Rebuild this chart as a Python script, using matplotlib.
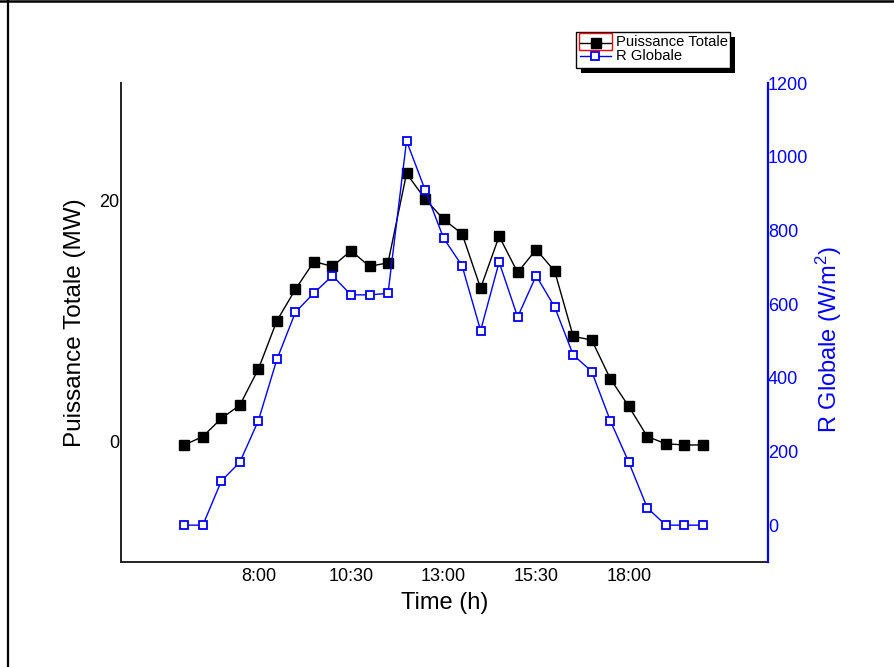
import matplotlib
matplotlib.use('Agg')
import matplotlib.pyplot as plt
from matplotlib.patches import Rectangle
from matplotlib.lines import Line2D

plt.rcParams['font.family'] = ['Liberation Sans', 'DejaVu Sans']
plt.rcParams['mathtext.fontset'] = 'custom'
plt.rcParams['mathtext.rm'] = 'Liberation Sans'
plt.rcParams['mathtext.it'] = 'Liberation Sans'
plt.rcParams['mathtext.default'] = 'regular'

# ---- data ----
hours = [6.0, 6.5, 7.0, 7.5, 8.0, 8.5, 9.0, 9.5, 10.0, 10.5, 11.0, 11.5, 12.0, 12.5,
         13.0, 13.5, 14.0, 14.5, 15.0, 15.5, 16.0, 16.5, 17.0, 17.5, 18.0, 18.5,
         19.0, 19.5, 20.0]
puissance = [-0.3, 0.4, 1.9, 3.0, 6.0, 10.0, 12.6, 14.9, 14.5, 15.8, 14.5, 14.8, 22.2, 20.1,
             18.4, 17.2, 12.7, 17.0, 14.0, 15.9, 14.1, 8.7, 8.4, 5.2, 2.9, 0.4,
             -0.2, -0.3, -0.3]
rglobale = [0, 0, 120, 171, 284, 450, 578, 630, 677, 625, 625, 629, 1043, 910,
            779, 704, 528, 714, 565, 677, 592, 462, 417, 284, 171, 47,
            0, 0, 0]
xtick_pos = [8, 10.5, 13, 15.5, 18]
xtick_labels = ['8:00', '10:30', '13:00', '15:30', '18:00']
left_ticks = [0, 20]
right_ticks = [0, 200, 400, 600, 800, 1000, 1200]

W, H = 895, 667
fig = plt.figure(figsize=(W / 100, H / 100), dpi=100)
fig.patch.set_facecolor('white')

ax = fig.add_axes([121 / W, (H - 562) / H, 647 / W, 479 / H])
ax2 = ax.twinx()

ax.plot(hours, puissance, color='black', lw=1.0, marker='s', ms=7.2,
        mfc='black', mec='black', zorder=3)
ax2.plot(hours, rglobale, color='#0000ff', lw=1.0, marker='s', ms=6.2,
         mfc='white', mec='#0000ff', mew=1.3, zorder=3)

ax.set_xlim(4.29, 21.76)
ax.set_ylim(-10, 29.7)
ax2.set_ylim(-100, 1200)

ax.set_xticks(xtick_pos)
ax.set_xticklabels(xtick_labels)
ax.set_yticks(left_ticks)
ax2.set_yticks(right_ticks)

ax.tick_params(axis='x', length=0, pad=4, labelsize=13, colors='black')
ax.tick_params(axis='y', length=0, pad=1.5, labelsize=13, colors='black')
ax2.tick_params(axis='y', length=0, pad=0, labelsize=13, colors='#0000ff')

for s in ['top', 'right']:
    ax.spines[s].set_visible(False)
for s in ['top', 'left', 'bottom']:
    ax2.spines[s].set_visible(False)
ax.spines['left'].set_color('#222222')
ax.spines['left'].set_linewidth(1.4)
ax.spines['bottom'].set_color('#222222')
ax.spines['bottom'].set_linewidth(1.4)
ax2.spines['right'].set_color('#0000ff')
ax2.spines['right'].set_linewidth(1.6)

ax.set_xlabel('Time (h)', fontsize=17)
ax.xaxis.label.set_va('center')
ax.xaxis.set_label_coords(0.5, -0.0856)

ax.set_ylabel('Puissance Totale (MW)', fontsize=17.5)
ax.yaxis.label.set_va('center')
ax.yaxis.set_label_coords(-0.071, 0.5)

ax2.set_ylabel(r'R Globale (W/m$^{2}$)', fontsize=17, color='#0000ff')
ax2.yaxis.label.set_va('center')
ax2.yaxis.label.set_rotation(90)
ax2.yaxis.set_label_coords(1.094, 0.465)

# ---- overlay for legend and frame (pixel coordinates) ----
ov = fig.add_axes([0, 0, 1, 1], zorder=10)
ov.set_xlim(0, W)
ov.set_ylim(H, 0)
ov.axis('off')
ov.patch.set_alpha(0)

# frame lines
ov.add_line(Line2D([8.5, 8.5], [0, H], color='black', lw=1.6))
ov.add_line(Line2D([0, W], [1, 1], color='black', lw=1.8))

# legend box with shadow
ov.add_patch(Rectangle((581.5, 36.5), 154, 36, facecolor='black', edgecolor='black', lw=0))
ov.add_patch(Rectangle((576.5, 31.5), 154, 36, facecolor='white', edgecolor='black', lw=1.0))
ov.add_patch(Rectangle((579, 32.5), 33, 17.5, facecolor='none', edgecolor='#ff0000', lw=1.0))

ov.add_line(Line2D([580, 611], [42.5, 42.5], color='black', lw=1.0))
ov.plot([596], [42.5], marker='s', ms=7.2, mfc='black', mec='black', ls='none')
ov.text(616, 42.5, 'Puissance Totale', fontsize=10.6, va='center', ha='left', color='black')

ov.add_line(Line2D([580, 611], [55.5, 55.5], color='#0000ff', lw=1.0))
ov.plot([595], [55.5], marker='s', ms=6.2, mfc='white', mec='#0000ff', mew=1.3, ls='none')
ov.text(616, 55.5, 'R Globale', fontsize=10.6, va='center', ha='left', color='black')

fig.savefig('out.png', dpi=100)
